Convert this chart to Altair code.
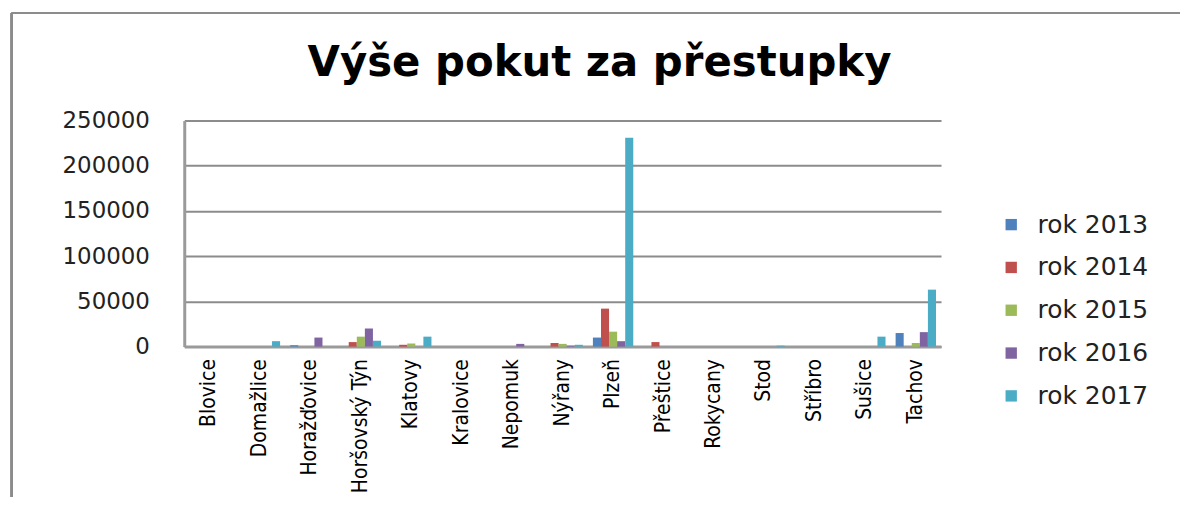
import altair as alt
import pandas as pd

title_text = ["Výše pokut za přestupky"]
towns = ["Blovice", "Domažlice", "Horažďovice", "Horšovský Týn", "Klatovy",
         "Kralovice", "Nepomuk", "Nýřany", "Plzeň", "Přeštice", "Rokycany",
         "Stod", "Stříbro", "Sušice", "Tachov"]
years = ["rok 2013", "rok 2014", "rok 2015", "rok 2016", "rok 2017"]
r2013 = [0, 0, 1500, 0, 0, 0, 0, 0, 10000, 0, 0, 0, 0, 0, 15000]
r2014 = [0, 0, 0, 5000, 2000, 0, 0, 4000, 42000, 5000, 0, 0, 0, 0, 0]
r2015 = [0, 0, 0, 11000, 3500, 0, 0, 3000, 16500, 0, 0, 0, 0, 0, 4000]
r2016 = [0, 0, 10000, 20000, 0, 0, 3000, 1000, 6000, 0, 0, 0, 0, 0, 16000]
r2017 = [0, 6000, 0, 6500, 11000, 0, 0, 2000, 231000, 0, 0, 1000, 0, 11000, 63000]
colors = ["#4F81BD", "#C0504D", "#9BBB59", "#8064A2", "#4BACC6"]
y_ticks = [0, 50000, 100000, 150000, 200000, 250000]

rows = []
for yr, vals in zip(years, [r2013, r2014, r2015, r2016, r2017]):
    for t, v in zip(towns, vals):
        rows.append({"obec": t, "rok": yr, "pokuty": v})
df = pd.DataFrame(rows)

W, H = 760, 227

bars = alt.Chart(df).mark_bar(stroke=None).encode(
    x=alt.X("obec:N", sort=towns, title=None,
            scale=alt.Scale(paddingInner=0.2, paddingOuter=0.1),
            axis=alt.Axis(labelAngle=270, labelAlign="right", labelBaseline="middle",
                          labelFont="DejaVu Sans Condensed, Liberation Sans Narrow, sans-serif",
                          labelFontSize=21,
                          labelColor="#000000", labelPadding=12, ticks=False,
                          domainColor="#9a9a9a", domainWidth=3)),
    xOffset=alt.XOffset("rok:N", sort=years),
    y=alt.Y("pokuty:Q", title=None,
            scale=alt.Scale(domain=[0, 250000]),
            axis=alt.Axis(values=y_ticks, format="d", labelFont="DejaVu Sans",
                          labelFontSize=23, labelColor="#222222", labelPadding=35,
                          ticks=False, grid=True, gridColor="#8c8c8c", gridWidth=2,
                          domainColor="#9a9a9a", domainWidth=3)),
    color=alt.Color("rok:N", sort=years,
                    scale=alt.Scale(domain=years, range=colors),
                    legend=alt.Legend(title=None, orient="none", legendX=818, legendY=92,
                                      symbolType="square", symbolSize=130,
                                      symbolStrokeWidth=0, labelFont="DejaVu Sans",
                                      labelFontSize=25, labelColor="#222222",
                                      labelOffset=14, rowPadding=17)),
)

frame_left = alt.Chart(df).mark_rule(color="#8c8c8c", strokeWidth=2).encode(
    x=alt.value(-173), y=alt.value(-108), y2=alt.value(420))
frame_top = alt.Chart(df).mark_rule(color="#8c8c8c", strokeWidth=2).encode(
    x=alt.value(-173), x2=alt.value(1100), y=alt.value(-108))

title = alt.Chart(pd.DataFrame({"t": title_text})).mark_text(
    font="DejaVu Sans", fontSize=42, fontWeight="bold", color="#000000",
    align="center", baseline="alphabetic").encode(
    text="t:N", x=alt.value(417), y=alt.value(-45))

chart = alt.layer(frame_left, frame_top, bars, title).properties(
    width=W, height=H,
    autosize=alt.AutoSizeParams(type="none"),
    padding={"left": 177, "top": 112, "right": 240, "bottom": 150},
).configure_view(stroke=None)

chart.save("out.html", embed_options={"renderer": "svg", "actions": False})
